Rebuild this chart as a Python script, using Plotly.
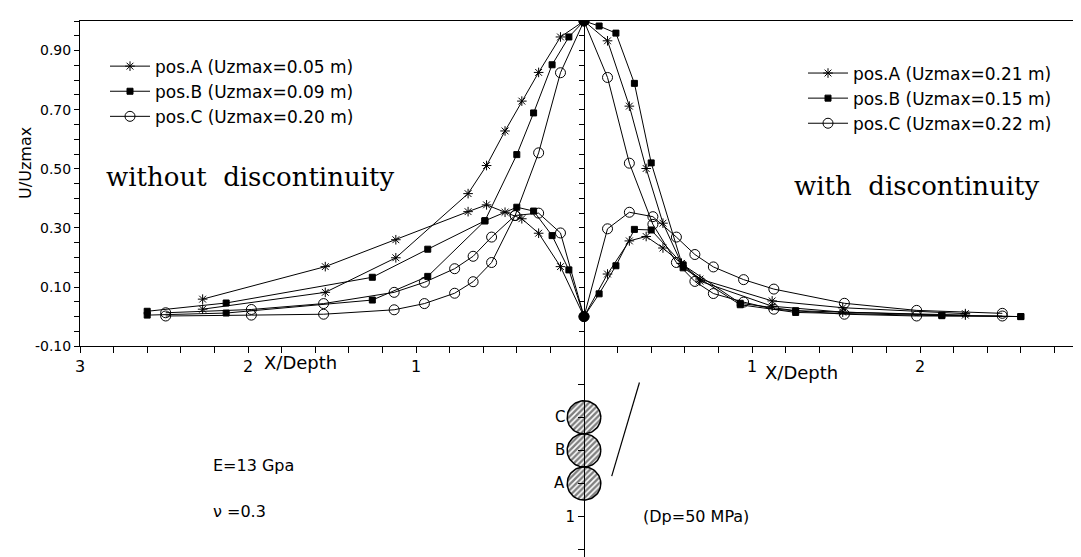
import numpy as np
import plotly.graph_objects as go

# ---------------- data ----------------
# X/Depth distances from the axis (absolute values) for each position
xA = [0, 0.14, 0.27, 0.37, 0.47, 0.58, 0.69, 1.12, 1.54, 2.27]
xB = [0, 0.09, 0.19, 0.30, 0.40, 0.59, 0.93, 1.26, 2.13, 2.60]
xC = [0, 0.14, 0.27, 0.41, 0.55, 0.66, 0.77, 0.95, 1.13, 1.55, 1.98, 2.49]

# without discontinuity (left half)
uzA_wo = [1.0, 0.946, 0.826, 0.729, 0.628, 0.511, 0.416, 0.199, 0.082, 0.025]
uxA_wo = [0.0, 0.169, 0.282, 0.331, 0.353, 0.378, 0.355, 0.260, 0.169, 0.059]
uzB_wo = [1.0, 0.946, 0.852, 0.689, 0.548, 0.324, 0.136, 0.056, 0.012, 0.005]
uxB_wo = [0.0, 0.158, 0.274, 0.357, 0.370, 0.324, 0.228, 0.133, 0.046, 0.018]
uzC_wo = [1.0, 0.825, 0.554, 0.342, 0.183, 0.118, 0.079, 0.044, 0.023, 0.008, 0.005, 0.002]
uxC_wo = [0.0, 0.283, 0.350, 0.342, 0.269, 0.204, 0.162, 0.116, 0.082, 0.044, 0.024, 0.013]

# with discontinuity (right half)
uzA_w = [1.0, 0.933, 0.712, 0.501, 0.316, 0.180, 0.120, 0.035, 0.015, 0.005]
uxA_w = [0.0, 0.144, 0.256, 0.271, 0.232, 0.180, 0.127, 0.053, 0.030, 0.010]
uzB_w = [1.0, 0.983, 0.959, 0.789, 0.520, 0.165, 0.040, 0.014, 0.003, 0.000]
uxB_w = [0.0, 0.077, 0.172, 0.295, 0.293, 0.175, 0.045, 0.020, 0.005, 0.000]
uzC_w = [1.0, 0.809, 0.519, 0.312, 0.183, 0.119, 0.078, 0.049, 0.025, 0.008, 0.002, 0.002]
uxC_w = [0.0, 0.297, 0.353, 0.338, 0.269, 0.210, 0.168, 0.125, 0.093, 0.045, 0.021, 0.011]

labels_wo = ["pos.A (Uzmax=0.05 m)", "pos.B (Uzmax=0.09 m)", "pos.C (Uzmax=0.20 m)"]
labels_w = ["pos.A (Uzmax=0.21 m)", "pos.B (Uzmax=0.15 m)", "pos.C (Uzmax=0.22 m)"]

y_label_vals = [-0.10, 0.10, 0.30, 0.50, 0.70, 0.90]
y_label_text = ["-0.10", "0.10", "0.30", "0.50", "0.70", "0.90"]
x_label_vals = [-3, -2, -1, 1, 2, 3]
x_label_text = ["3", "2", "1", "1", "2", "3"]

# sketch below the axis: cavity positions (depth/Depth) and discontinuity trace
pos_names = ["A", "B", "C"]
pos_depth = [0.8, 0.6, 0.4]
pos_radius = 0.1
fault_x = [0.33, 0.165]
fault_depth = [0.19, 0.755]

# ---------------- figure ----------------
FONT = "DejaVu Sans"
fig = go.Figure()

styles = {
    "A": dict(symbol="asterisk-open", size=8),
    "B": dict(symbol="square", size=6),
    "C": dict(symbol="circle-open", size=10),
}

def curve(x, y, key, name, legend, showlegend):
    st = styles[key]
    fig.add_trace(go.Scatter(
        x=x, y=y, mode="lines+markers", name=name, legend=legend,
        showlegend=showlegend,
        line=dict(color="black", width=1),
        marker=dict(symbol=st["symbol"], size=st["size"], color="black",
                    line=dict(color="black", width=1)),
    ))

sets_wo = [("A", xA, uzA_wo, uxA_wo), ("B", xB, uzB_wo, uxB_wo), ("C", xC, uzC_wo, uxC_wo)]
sets_w = [("A", xA, uzA_w, uxA_w), ("B", xB, uzB_w, uxB_w), ("C", xC, uzC_w, uxC_w)]

for (key, xs, uz, ux), lab in zip(sets_wo, labels_wo):
    xl = [-v for v in xs]
    curve(xl, uz, key, lab, "legend", True)
    curve(xl, ux, key, lab, "legend", False)
for (key, xs, uz, ux), lab in zip(sets_w, labels_w):
    curve(xs, uz, key, lab, "legend2", True)
    curve(xs, ux, key, lab, "legend2", False)

# common points at the axis
fig.add_trace(go.Scatter(x=[xA[0], xA[0]], y=[uzA_wo[0], uxA_wo[0]], mode="markers",
                         yaxis="y3", showlegend=False,
                         marker=dict(symbol="circle", size=10, color="black")))

# cavities (hatched circles)
theta = np.linspace(0, 2 * np.pi, 73)
for nm, d in zip(pos_names, pos_depth):
    fig.add_trace(go.Scatter(
        x=pos_radius * np.cos(theta), y=d + pos_radius * np.sin(theta),
        yaxis="y2", mode="lines", fill="toself", showlegend=False,
        line=dict(color="black", width=1.5),
        fillcolor="white",
        fillpattern=dict(shape="/", fgcolor="black", bgcolor="white", size=4, solidity=0.6),
    ))
    fig.add_annotation(x=-pos_radius, y=d, xref="x", yref="y2", text=nm, showarrow=False,
                       xanchor="right", yanchor="middle", font=dict(family=FONT, size=15, color="black"))

fig.add_trace(go.Scatter(x=fault_x, y=fault_depth, yaxis="y2", mode="lines", showlegend=False,
                         line=dict(color="black", width=1.2)))

# ---------------- axes ----------------
W, H = 1081, 557
L, R, T, B = 72, 1, 13, 0
ph = H - T - B
y_split = (H - 343) / ph  # main panel bottom (y=-0.10)

yt = [round(v, 2) for v in np.arange(-0.10, 1.0001, 0.05)]
ytxt = [y_label_text[y_label_vals.index(v)] if v in y_label_vals else "" for v in yt]
xt = [round(v, 1) for v in np.arange(-3, 3.0001, 0.2)]
xtxt = [x_label_text[x_label_vals.index(v)] if v in x_label_vals else "" for v in xt]

axis_common = dict(showgrid=False, zeroline=False, showline=True, linecolor="black", linewidth=1,
                   ticks="outside", tickcolor="black", tickwidth=1)

legend_common = dict(xanchor="left", yanchor="top", bgcolor="rgba(0,0,0,0)", borderwidth=0,
                     itemwidth=40, tracegroupgap=0, font=dict(family=FONT, size=17, color="black"))

fig.update_layout(
    width=W, height=H, margin=dict(l=L, r=R, t=T, b=B),
    paper_bgcolor="white", plot_bgcolor="white",
    xaxis=dict(range=[-3, 3], domain=[0, 1], anchor="y", mirror=True, ticklen=6,
               tickmode="array", tickvals=xt, ticktext=xtxt,
               tickfont=dict(family=FONT, size=16, color="black"), **axis_common),
    yaxis=dict(range=[-0.10, 1.0], domain=[y_split, 1], anchor="x", ticklen=5,
               tickmode="array", tickvals=yt, ticktext=ytxt,
               tickfont=dict(family=FONT, size=14, color="black"), **axis_common),
    yaxis3=dict(range=[-0.10, 1.0], overlaying="y", anchor="free", position=0.5, side="left",
                ticklen=5, tickmode="array", tickvals=yt, showticklabels=False, **axis_common),
    yaxis2=dict(range=[(H - 343) / 168 - 5 / 168, -5 / 168], domain=[0, y_split], anchor="free",
                position=0.5, side="left", ticklen=6, tickmode="array",
                tickvals=[0.2, 0.4, 0.6, 0.8, 1.0, 1.2], ticktext=["", "", "", "", "1", ""],
                tickfont=dict(family=FONT, size=15, color="black"), **axis_common),
    legend=dict(x=(97 - L) / 1008, y=(H - 41) / ph, **legend_common),
    legend2=dict(x=(795 - L) / 1008, y=(H - 48) / ph, **legend_common),
)

def note(text, px, py, size=16, family=FONT, xanchor="left", angle=0):
    fig.add_annotation(x=(px - L) / 1008, y=(H - py) / ph, xref="paper", yref="paper",
                       text=text, showarrow=False, xanchor=xanchor, yanchor="middle",
                       textangle=angle, font=dict(family=family, size=size, color="black"))

note("without  discontinuity", 96, 171, size=26, family="DejaVu Serif")
note("with  discontinuity", 784, 180, size=26, family="DejaVu Serif")
note("X/Depth", 254, 360, size=18)
note("X/Depth", 755, 370, size=18)
note("U/Uzmax", 18, 157, xanchor="center", angle=-90)
note("E=13 Gpa", 203, 464)
note("\u03bd =0.3", 203, 511)
note("(Dp=50 MPa)", 633, 516)

fig.write_html("out.html")
